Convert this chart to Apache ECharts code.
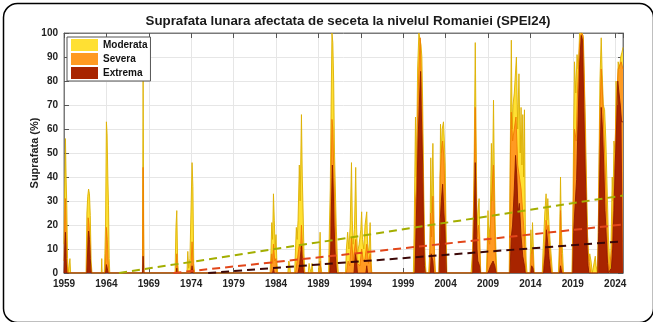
<!DOCTYPE html>
<html><head><meta charset="utf-8">
<script src="https://cdn.jsdelivr.net/npm/echarts@6/dist/echarts.min.js"></script>
<style>html,body{margin:0;padding:0;background:#fff}#c{width:653px;height:322px}</style>
</head><body><div id="c"></div>
<script>
const chartTitle = 'Suprafata lunara afectata de seceta la nivelul Romaniei (SPEI24)';
const yAxisTitle = 'Suprafata (%)';
const seriesNames = ['Moderata', 'Severa', 'Extrema'];
const xRange = [1959, 2024.92];
const yRange = [0, 100];

const moderata = [
[1959.0,12],[1959.08,35],[1959.17,56],[1959.25,40],[1959.33,28],[1959.42,6],[1959.5,0],[1959.62,0],[1959.7,6],[1959.78,0],
[1961.6,0],[1961.7,25],[1961.8,32],[1961.9,35],[1962.0,33],[1962.1,24],[1962.2,5],[1962.3,0],
[1963.4,0],[1963.45,6],[1963.5,0],[1963.75,0],[1963.82,8],[1963.9,20],[1964.0,63],[1964.08,58],[1964.17,40],[1964.25,28],[1964.33,6],[1964.4,0],
[1968.25,0],[1968.33,81],[1968.42,0],
[1972.1,0],[1972.2,19],[1972.3,26],[1972.4,5],[1972.5,0],
[1973.5,0],[1973.6,9],[1973.7,2],[1973.85,6],[1974.0,30],[1974.1,46],[1974.2,36],[1974.3,4],[1974.4,0],
[1983.3,0],[1983.4,8],[1983.5,21],[1983.6,14],[1983.7,33],[1983.8,22],[1983.9,10],[1984.0,16],[1984.1,5],[1984.2,0],
[1985.4,0],[1985.5,5],[1985.6,4],[1985.7,0],
[1986.2,0],[1986.3,10],[1986.4,19],[1986.5,14],[1986.6,22],[1986.75,45],[1986.85,30],[1987.0,66],[1987.1,40],[1987.2,25],[1987.3,8],[1987.4,0],
[1987.8,0],[1987.9,4],[1988.0,2],[1988.15,0],[1988.25,4],[1988.35,0],
[1989.0,0],[1989.1,6],[1989.2,17],[1989.3,3],[1989.4,0],
[1990.2,0],[1990.3,20],[1990.4,35],[1990.5,70],[1990.6,100],[1990.7,96],[1990.8,80],[1990.9,50],[1991.0,35],[1991.1,20],[1991.25,5],[1991.35,0],
[1992.2,0],[1992.3,10],[1992.45,17],[1992.6,10],[1992.75,20],[1992.9,46],[1993.0,22],[1993.1,12],[1993.25,18],[1993.4,44],[1993.5,20],[1993.6,8],[1993.8,12],[1994.0,18],[1994.1,25.5],[1994.2,14],[1994.35,10],[1994.5,20],[1994.7,25.5],[1994.8,12],[1994.95,8],[1995.1,21],[1995.2,6],[1995.3,0],
[2000.2,0],[2000.3,20],[2000.45,65],[2000.55,40],[2000.7,85],[2000.85,100],[2001.0,100],[2001.1,95],[2001.2,90],[2001.3,70],[2001.4,40],[2001.5,15],[2001.6,5],[2001.7,0],
[2002.0,0],[2002.15,10],[2002.25,48],[2002.35,25],[2002.5,54],[2002.6,30],[2002.7,8],[2002.8,0],
[2003.2,0],[2003.3,15],[2003.4,62],[2003.5,50],[2003.6,60],[2003.75,63],[2003.85,55],[2003.95,45],[2004.05,20],[2004.15,0],
[2007.0,0],[2007.2,10],[2007.35,40],[2007.5,96],[2007.6,55],[2007.7,20],[2007.8,25],[2007.95,31],[2008.05,10],[2008.15,0],
[2008.8,0],[2008.9,10],[2009.0,26],[2009.1,15],[2009.25,20],[2009.4,54],[2009.5,30],[2009.65,72],[2009.75,40],[2009.85,20],[2009.95,8],[2010.05,0],
[2011.5,0],[2011.6,40],[2011.75,97],[2011.85,60],[2011.95,70],[2012.1,75],[2012.35,90],[2012.5,60],[2012.65,83],[2012.8,50],[2012.9,69],[2013.0,45],[2013.1,66],[2013.2,40],[2013.3,68],[2013.4,20],[2013.5,5],[2013.6,0],
[2013.95,0],[2014.05,18],[2014.15,8],[2014.25,21],[2014.35,10],[2014.45,0],
[2015.4,0],[2015.5,10],[2015.7,25],[2015.85,33],[2015.95,22],[2016.05,31],[2016.2,20],[2016.35,12],[2016.5,5],[2016.6,0],
[2017.3,0],[2017.45,15],[2017.55,40],[2017.65,18],[2017.8,8],[2017.9,0],
[2018.9,0],[2019.0,20],[2019.1,60],[2019.2,88],[2019.35,75],[2019.5,91],[2019.65,85],[2019.8,100],[2019.95,100],[2020.1,100],[2020.25,98],[2020.4,75],[2020.5,60],[2020.6,40],[2020.75,15],[2020.9,5],[2021.0,8],[2021.15,5],[2021.3,0],
[2021.45,0],[2021.55,5],[2021.65,7],[2021.75,3],[2021.9,0],
[2022.0,15],[2022.1,50],[2022.2,80],[2022.35,98],[2022.45,85],[2022.6,70],[2022.75,68],[2022.9,55],[2023.05,35],[2023.2,15],[2023.35,5],[2023.45,2],
[2023.55,20],[2023.65,40],[2023.75,30],[2023.85,55],[2024.0,50],[2024.1,80],[2024.25,70],[2024.35,88],[2024.5,85],[2024.65,90],[2024.8,92],[2024.92,94]
];

const severa = [
[1959.0,5],[1959.08,20],[1959.17,31],[1959.25,18],[1959.33,5],[1959.42,0],
[1961.65,0],[1961.75,12],[1961.85,23],[1961.95,20],[1962.05,14],[1962.15,3],[1962.25,0],
[1963.85,0],[1963.95,10],[1964.0,19],[1964.1,14],[1964.2,5],[1964.3,0],
[1968.25,0],[1968.33,44],[1968.42,0],
[1972.2,0],[1972.3,8],[1972.4,0],
[1973.9,0],[1974.0,5],[1974.1,13],[1974.2,6],[1974.3,0],
[1983.4,0],[1983.5,8],[1983.6,4],[1983.7,12],[1983.85,5],[1984.0,6],[1984.1,0],
[1986.3,0],[1986.5,5],[1986.75,12],[1986.9,10],[1987.0,20],[1987.1,12],[1987.25,3],[1987.35,0],
[1989.15,0],[1989.2,5],[1989.3,0],
[1990.3,0],[1990.4,15],[1990.5,40],[1990.6,64],[1990.7,60],[1990.8,45],[1990.9,30],[1991.0,20],[1991.1,8],[1991.2,0],
[1992.3,0],[1992.5,5],[1992.7,3],[1992.9,15],[1993.1,5],[1993.4,14],[1993.6,4],[1993.9,3],[1994.1,10],[1994.3,5],[1994.5,6],[1994.7,12],[1994.9,4],[1995.1,8],[1995.25,0],
[2000.35,0],[2000.45,30],[2000.55,35],[2000.7,65],[2000.85,85],[2001.0,98],[2001.1,85],[2001.25,65],[2001.35,40],[2001.5,10],[2001.6,0],
[2002.1,0],[2002.25,25],[2002.35,15],[2002.5,32],[2002.65,10],[2002.75,0],
[2003.25,0],[2003.35,40],[2003.5,50],[2003.65,55],[2003.8,48],[2003.9,35],[2004.0,15],[2004.1,0],
[2007.15,0],[2007.35,35],[2007.5,69],[2007.6,40],[2007.7,15],[2007.85,20],[2008.0,15],[2008.1,0],
[2008.9,0],[2009.0,15],[2009.2,12],[2009.4,30],[2009.65,45],[2009.75,25],[2009.9,5],[2010.0,0],
[2011.55,0],[2011.65,50],[2011.75,67],[2011.9,55],[2012.1,60],[2012.3,65],[2012.5,45],[2012.7,40],[2012.9,35],[2013.1,25],[2013.3,15],[2013.45,0],
[2014.0,0],[2014.1,8],[2014.25,10],[2014.4,0],
[2015.5,0],[2015.7,12],[2015.85,22],[2016.0,18],[2016.1,20],[2016.3,8],[2016.5,0],
[2017.4,0],[2017.55,26],[2017.65,8],[2017.8,0],
[2018.95,0],[2019.05,25],[2019.2,60],[2019.4,55],[2019.55,75],[2019.8,95],[2020.0,100],[2020.2,99],[2020.35,80],[2020.5,50],[2020.65,25],[2020.8,8],[2021.0,3],[2021.1,0],
[2021.95,0],[2022.05,30],[2022.2,65],[2022.35,85],[2022.5,75],[2022.65,60],[2022.8,45],[2022.95,30],[2023.1,10],[2023.25,0],
[2023.45,0],[2023.6,10],[2023.75,25],[2023.9,40],[2024.05,60],[2024.2,75],[2024.35,85],[2024.5,85],[2024.7,88],[2024.92,85]
];

const extrema = [
[1959.0,0],[1959.08,10],[1959.17,17],[1959.25,6],[1959.33,0],
[1961.7,0],[1961.8,10],[1961.9,17.5],[1962.0,14],[1962.1,6],[1962.2,0],
[1963.9,0],[1964.0,3.5],[1964.1,2],[1964.2,0],
[1968.25,0],[1968.33,7],[1968.42,0],
[1972.25,0],[1972.3,2],[1972.35,0],
[1974.0,0],[1974.1,3],[1974.2,0],
[1983.6,0],[1983.7,2],[1983.8,0],
[1986.6,0],[1986.8,4],[1987.0,11.5],[1987.1,6],[1987.25,0],
[1990.35,0],[1990.45,10],[1990.55,30],[1990.65,45],[1990.75,35],[1990.85,20],[1990.95,10],[1991.05,4],[1991.15,0],
[1993.2,0],[1993.35,8],[1993.5,5],[1993.6,0],
[1994.6,0],[1994.7,3],[1994.8,0],
[2000.4,0],[2000.5,15],[2000.6,30],[2000.75,55],[2000.9,70],[2001.05,84],[2001.15,65],[2001.3,45],[2001.4,20],[2001.5,3],[2001.6,0],
[2002.2,0],[2002.3,8],[2002.5,5],[2002.6,0],
[2003.25,0],[2003.35,21],[2003.5,30],[2003.65,37],[2003.8,25],[2003.9,20],[2004.0,10],[2004.1,0],
[2007.2,0],[2007.35,20],[2007.5,46],[2007.6,30],[2007.7,10],[2007.8,5],[2008.0,3],[2008.1,0],
[2009.0,0],[2009.3,3],[2009.6,5],[2009.8,3],[2009.95,0],
[2011.6,0],[2011.75,15],[2011.9,20],[2012.1,35],[2012.25,49],[2012.4,40],[2012.55,25],[2012.7,29],[2012.9,15],[2013.1,7],[2013.3,3],[2013.4,0],
[2014.05,0],[2014.15,3],[2014.3,2],[2014.4,0],
[2015.55,0],[2015.75,8],[2015.9,18],[2016.05,12],[2016.2,6],[2016.4,0],
[2017.45,0],[2017.55,3],[2017.7,0],
[2019.0,0],[2019.1,17],[2019.3,30],[2019.45,39],[2019.6,60],[2019.8,87],[2020.0,99],[2020.15,97],[2020.3,69],[2020.45,45],[2020.55,32],[2020.7,10],[2020.8,3],[2020.9,0],
[2021.95,0],[2022.05,17],[2022.2,45],[2022.35,69],[2022.5,60],[2022.65,45],[2022.8,26],[2022.95,15],[2023.1,4],[2023.2,0],
[2023.4,0],[2023.55,2],[2023.7,10],[2023.85,26],[2024.0,45],[2024.15,60],[2024.3,80],[2024.45,75],[2024.6,70],[2024.75,63],[2024.92,63]
];

const trendModerata = [[1965.5,0],[2024.92,32.3]];
const trendSevera = [[1971.9,0],[2024.92,20.2]];
const trendExtrema = [[1976.0,0],[2024.92,13.2]];

const FONT = "'Liberation Sans', Arial, Helvetica, sans-serif";
const chart = echarts.init(document.getElementById('c'), null, {renderer: 'canvas'});

function areaSeries(name, data, fill, edge) {
  return {
    name, type: 'line', data, xAxisIndex: 0, yAxisIndex: 0,
    showSymbol: false, symbol: 'none', smooth: false, sampling: null,
    lineStyle: {color: edge, width: 0.9},
    itemStyle: {color: fill},
    areaStyle: {color: fill, opacity: 1, origin: 'start'},
    emphasis: {disabled: true}, z: 2
  };
}
function trendSeries(name, data, color) {
  return {
    name, type: 'line', data, xAxisIndex: 0, yAxisIndex: 0,
    showSymbol: false, symbol: 'none',
    lineStyle: {color, width: 2, type: [8, 5]},
    emphasis: {disabled: true}, z: 5
  };
}

const xFmt = v => (Number.isInteger(v) && (v - 1959) % 5 === 0) ? String(v) : '';

chart.setOption({
  animation: false,
  backgroundColor: '#fff',
  textStyle: {fontFamily: FONT},
  title: {
    text: chartTitle, left: 343, top: 10, textAlign: 'center',
    textStyle: {fontFamily: FONT, fontSize: 13.3, fontWeight: 'bold', color: '#1a1a1a'}
  },
  grid: {left: 64, right: 30, top: 33, bottom: 49, show: true, borderColor: '#7a7a7a', borderWidth: 1, backgroundColor: 'transparent'},
  legend: {
    data: seriesNames, orient: 'vertical', left: 67, top: 37,
    icon: 'rect', itemWidth: 27, itemHeight: 12, itemGap: 2,
    padding: [2, 3, 2, 4],
    backgroundColor: '#fff', borderColor: '#555', borderWidth: 1,
    textStyle: {fontFamily: FONT, fontSize: 10, fontWeight: 'bold', color: '#111'}
  },
  xAxis: [
    {type: 'value', min: xRange[0], max: xRange[1], interval: 5, position: 'bottom',
     axisLine: {show: true, onZero: false, lineStyle: {color: '#7a7a7a'}},
     axisTick: {show: true, inside: true, length: 5, lineStyle: {color: '#555'}},
     axisLabel: {formatter: xFmt, margin: 6, fontFamily: FONT, fontSize: 10, fontWeight: 'bold', color: '#222', showMaxLabel: false},
     splitLine: {show: true, lineStyle: {color: '#e6e6e6', width: 1}}},
    {type: 'value', min: xRange[0], max: xRange[1], interval: 5, position: 'top',
     axisLine: {show: true, onZero: false, lineStyle: {color: '#7a7a7a'}},
     axisTick: {show: true, inside: true, length: 5, lineStyle: {color: '#555'}},
     axisLabel: {show: false}, splitLine: {show: false}}
  ],
  yAxis: [
    {type: 'value', min: yRange[0], max: yRange[1], interval: 10, position: 'left',
     name: yAxisTitle, nameLocation: 'middle', nameGap: 24, nameMoveOverlap: false,
     nameTextStyle: {fontFamily: FONT, fontSize: 11, fontWeight: 'bold', color: '#222'},
     axisLine: {show: true, onZero: false, lineStyle: {color: '#7a7a7a'}},
     axisTick: {show: true, inside: true, length: 5, lineStyle: {color: '#555'}},
     axisLabel: {margin: 6, fontFamily: FONT, fontSize: 10, fontWeight: 'bold', color: '#222'},
     splitLine: {show: true, lineStyle: {color: '#e6e6e6', width: 1}}},
    {type: 'value', min: yRange[0], max: yRange[1], interval: 10, position: 'right',
     axisLine: {show: true, onZero: false, lineStyle: {color: '#7a7a7a'}},
     axisTick: {show: true, inside: true, length: 5, lineStyle: {color: '#555'}},
     axisLabel: {show: false}, splitLine: {show: false}}
  ],
  graphic: [{
    type: 'rect', left: 1, top: 1, silent: true, z: 100,
    shape: {x: 0, y: 0, width: 650, height: 319, r: 14},
    style: {fill: 'none', stroke: '#000', lineWidth: 1.5}
  }],
  series: [
    areaSeries(seriesNames[0], moderata, '#FFE033', '#DDB000'),
    areaSeries(seriesNames[1], severa, '#FF9A22', '#F07E00'),
    areaSeries(seriesNames[2], extrema, '#A82400', '#8E1C00'),
    trendSeries('trendModerata', trendModerata, '#A3AE00'),
    trendSeries('trendSevera', trendSevera, '#E2461A'),
    trendSeries('trendExtrema', trendExtrema, '#3C0808')
  ]
});
</script>
</body></html>
